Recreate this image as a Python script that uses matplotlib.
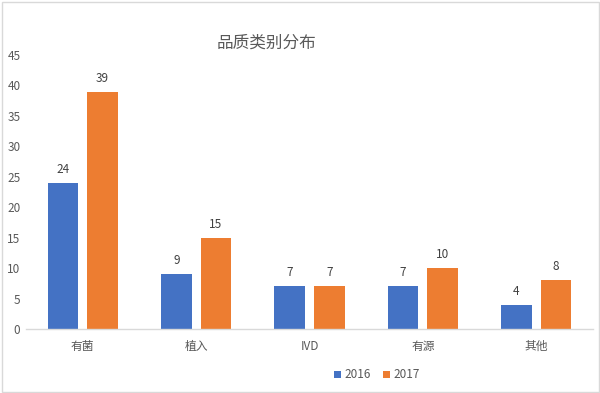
import matplotlib
matplotlib.use("Agg")
import matplotlib.pyplot as plt
import numpy as np
from matplotlib.patches import Rectangle

plt.rcParams['font.family'] = ['Noto Sans CJK SC', 'DejaVu Sans']

categories = ["有菌", "植入", "IVD", "有源", "其他"]
series_names = ["2016", "2017"]
values_2016 = [24, 9, 7, 7, 4]
values_2017 = [39, 15, 7, 10, 8]
title = "品质类别分布"
yticks = [0, 5, 10, 15, 20, 25, 30, 35, 40, 45]

colors = ["#4472C4", "#ED7D31"]

W, H = 600, 393
fig = plt.figure(figsize=(W / 100, H / 100), dpi=100)
ax = fig.add_axes([26 / W, 1 - 329 / H, (593 - 26) / W, (329 - 55) / H])

x = np.arange(len(categories))
bw = 0.27
off = 0.175
b1 = ax.bar(x - off, values_2016, bw, color=colors[0], label=series_names[0])
b2 = ax.bar(x + off, values_2017, bw, color=colors[1], label=series_names[1])

for bars in (b1, b2):
    for r in bars:
        ax.annotate(f"{int(r.get_height())}", (r.get_x() + r.get_width() / 2, r.get_height()),
                    xytext=(0, 5), textcoords="offset points", ha="center", va="bottom",
                    fontsize=8.5, color="#404040")

ax.set_xlim(-0.5, len(categories) - 0.5)
ax.set_ylim(0, 45)
ax.set_yticks(yticks)
ax.set_xticks(x)
ax.set_xticklabels(categories, fontsize=8.5, color="#595959")
ax.tick_params(axis="y", length=0, pad=4, labelsize=8.5, labelcolor="#595959")
ax.tick_params(axis="x", length=0, pad=8)
for s in ["top", "right", "left"]:
    ax.spines[s].set_visible(False)
ax.spines["bottom"].set_color("#D9D9D9")
ax.spines["bottom"].set_linewidth(1)

fig.text(266 / W, 1 - 43 / H, title, ha="center", va="center", fontsize=12, color="#595959")

leg = fig.legend(handles=[b1, b2], labels=series_names, loc="center",
                 bbox_to_anchor=(377 / W, 1 - 375 / H), ncol=2, frameon=False,
                 fontsize=8.5, handlelength=0.6, handleheight=0.6, handletextpad=0.3,
                 columnspacing=1.0, labelcolor="#595959")

fig.patches.append(Rectangle((1.5 / W, 1.5 / H), (W - 3) / W, (H - 3) / H,
                             transform=fig.transFigure, fill=False,
                             edgecolor="#D9D9D9", linewidth=1))

fig.savefig("out.png", dpi=100)
